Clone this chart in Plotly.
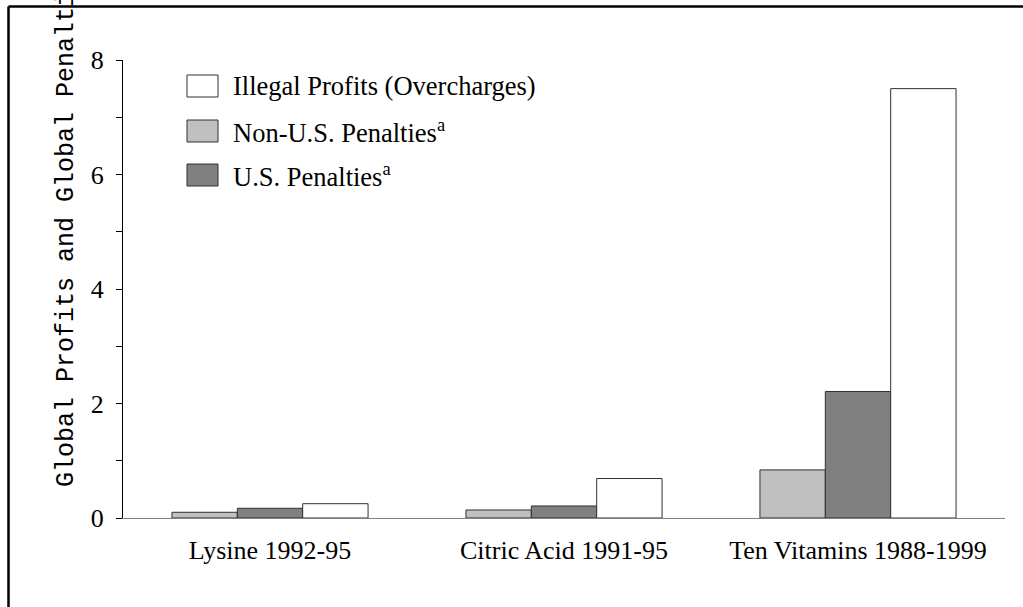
import plotly.graph_objects as go

categories = ["Lysine 1992-95", "Citric Acid 1991-95", "Ten Vitamins 1988-1999"]
non_us_penalties = [0.10, 0.14, 0.84]
us_penalties = [0.17, 0.21, 2.21]
illegal_profits = [0.25, 0.69, 7.50]

series_names = ["Non-U.S. Penalties<sup>a</sup>", "U.S. Penalties<sup>a</sup>", "Illegal Profits (Overcharges)"]
series_colors = ["#c0c0c0", "#808080", "#ffffff"]
legend_order = [2, 0, 1]  # Illegal, Non-U.S., U.S.

y_tick_vals = [0, 2, 4, 6, 8]
y_tick_text = ["0", "2", "4", "6", "8"]
y_title = "Global Profits and Global Penalties ($ billions)"

W, H = 1023, 607
L, R, T, B = 123, 18, 60, 89
pw, ph = W - L - R, H - T - B

def px(x):
    return (x - L) / pw

def py(y):
    return (H - B - y) / ph

fig = go.Figure()
for vals, name, col in zip([non_us_penalties, us_penalties, illegal_profits], series_names, series_colors):
    fig.add_trace(go.Bar(x=categories, y=vals, name=name, marker=dict(color=col, line=dict(color="#303030", width=1)),
                         showlegend=False))

serif = "Liberation Serif, Times New Roman, serif"
mono = "Liberation Mono, Courier New, monospace"

shapes = []
annotations = []
# manual legend
row_y = [86, 131, 175]
for i, idx in enumerate(legend_order):
    yc = row_y[i]
    shapes.append(dict(type="rect", xref="paper", yref="paper",
                       x0=px(187), x1=px(218), y0=py(yc + 11), y1=py(yc - 11),
                       fillcolor=series_colors[idx], line=dict(color="#303030", width=1)))
    annotations.append(dict(xref="paper", yref="paper", x=px(231), y=py(yc), xanchor="left", yanchor="middle",
                            text=series_names[idx], showarrow=False, font=dict(family=serif, size=26.5, color="black")))

# y-axis title
annotations.append(dict(xref="paper", yref="paper", x=px(66), y=py(489), xanchor="center", yanchor="bottom",
                        textangle=-90, text=y_title, showarrow=False, font=dict(family=mono, size=25, color="black")))

# outer frame
shapes.append(dict(type="line", xref="paper", yref="paper", x0=px(8.5), x1=px(W + 10), y0=py(6.5), y1=py(6.5),
                   line=dict(color="black", width=2.5)))
shapes.append(dict(type="line", xref="paper", yref="paper", x0=px(8.5), x1=px(8.5), y0=py(6.5), y1=py(H + 10),
                   line=dict(color="black", width=2.5)))

fig.update_layout(
    width=W, height=H,
    margin=dict(l=L, r=R, t=T, b=B),
    paper_bgcolor="white", plot_bgcolor="white",
    barmode="group", bargap=0.333, bargroupgap=0,
    showlegend=False,
    shapes=shapes, annotations=annotations,
    xaxis=dict(showline=True, linecolor="#808080", linewidth=1, ticks="", showgrid=False, zeroline=False,
               tickfont=dict(family=serif, size=26, color="black"), ticklabelstandoff=9),
    yaxis=dict(range=[0, 8], showline=True, linecolor="black", linewidth=1, ticks="outside", ticklen=6,
               tickcolor="black", tickvals=y_tick_vals, ticktext=y_tick_text, showgrid=False, zeroline=False,
               minor=dict(dtick=1, tick0=0, ticks="outside", ticklen=6, tickcolor="black"),
               tickfont=dict(family=serif, size=26, color="black"), ticklabelstandoff=7),
)

fig.write_html("out.html", config={"displayModeBar": False},
               post_script="document.body.style.margin='0';")
